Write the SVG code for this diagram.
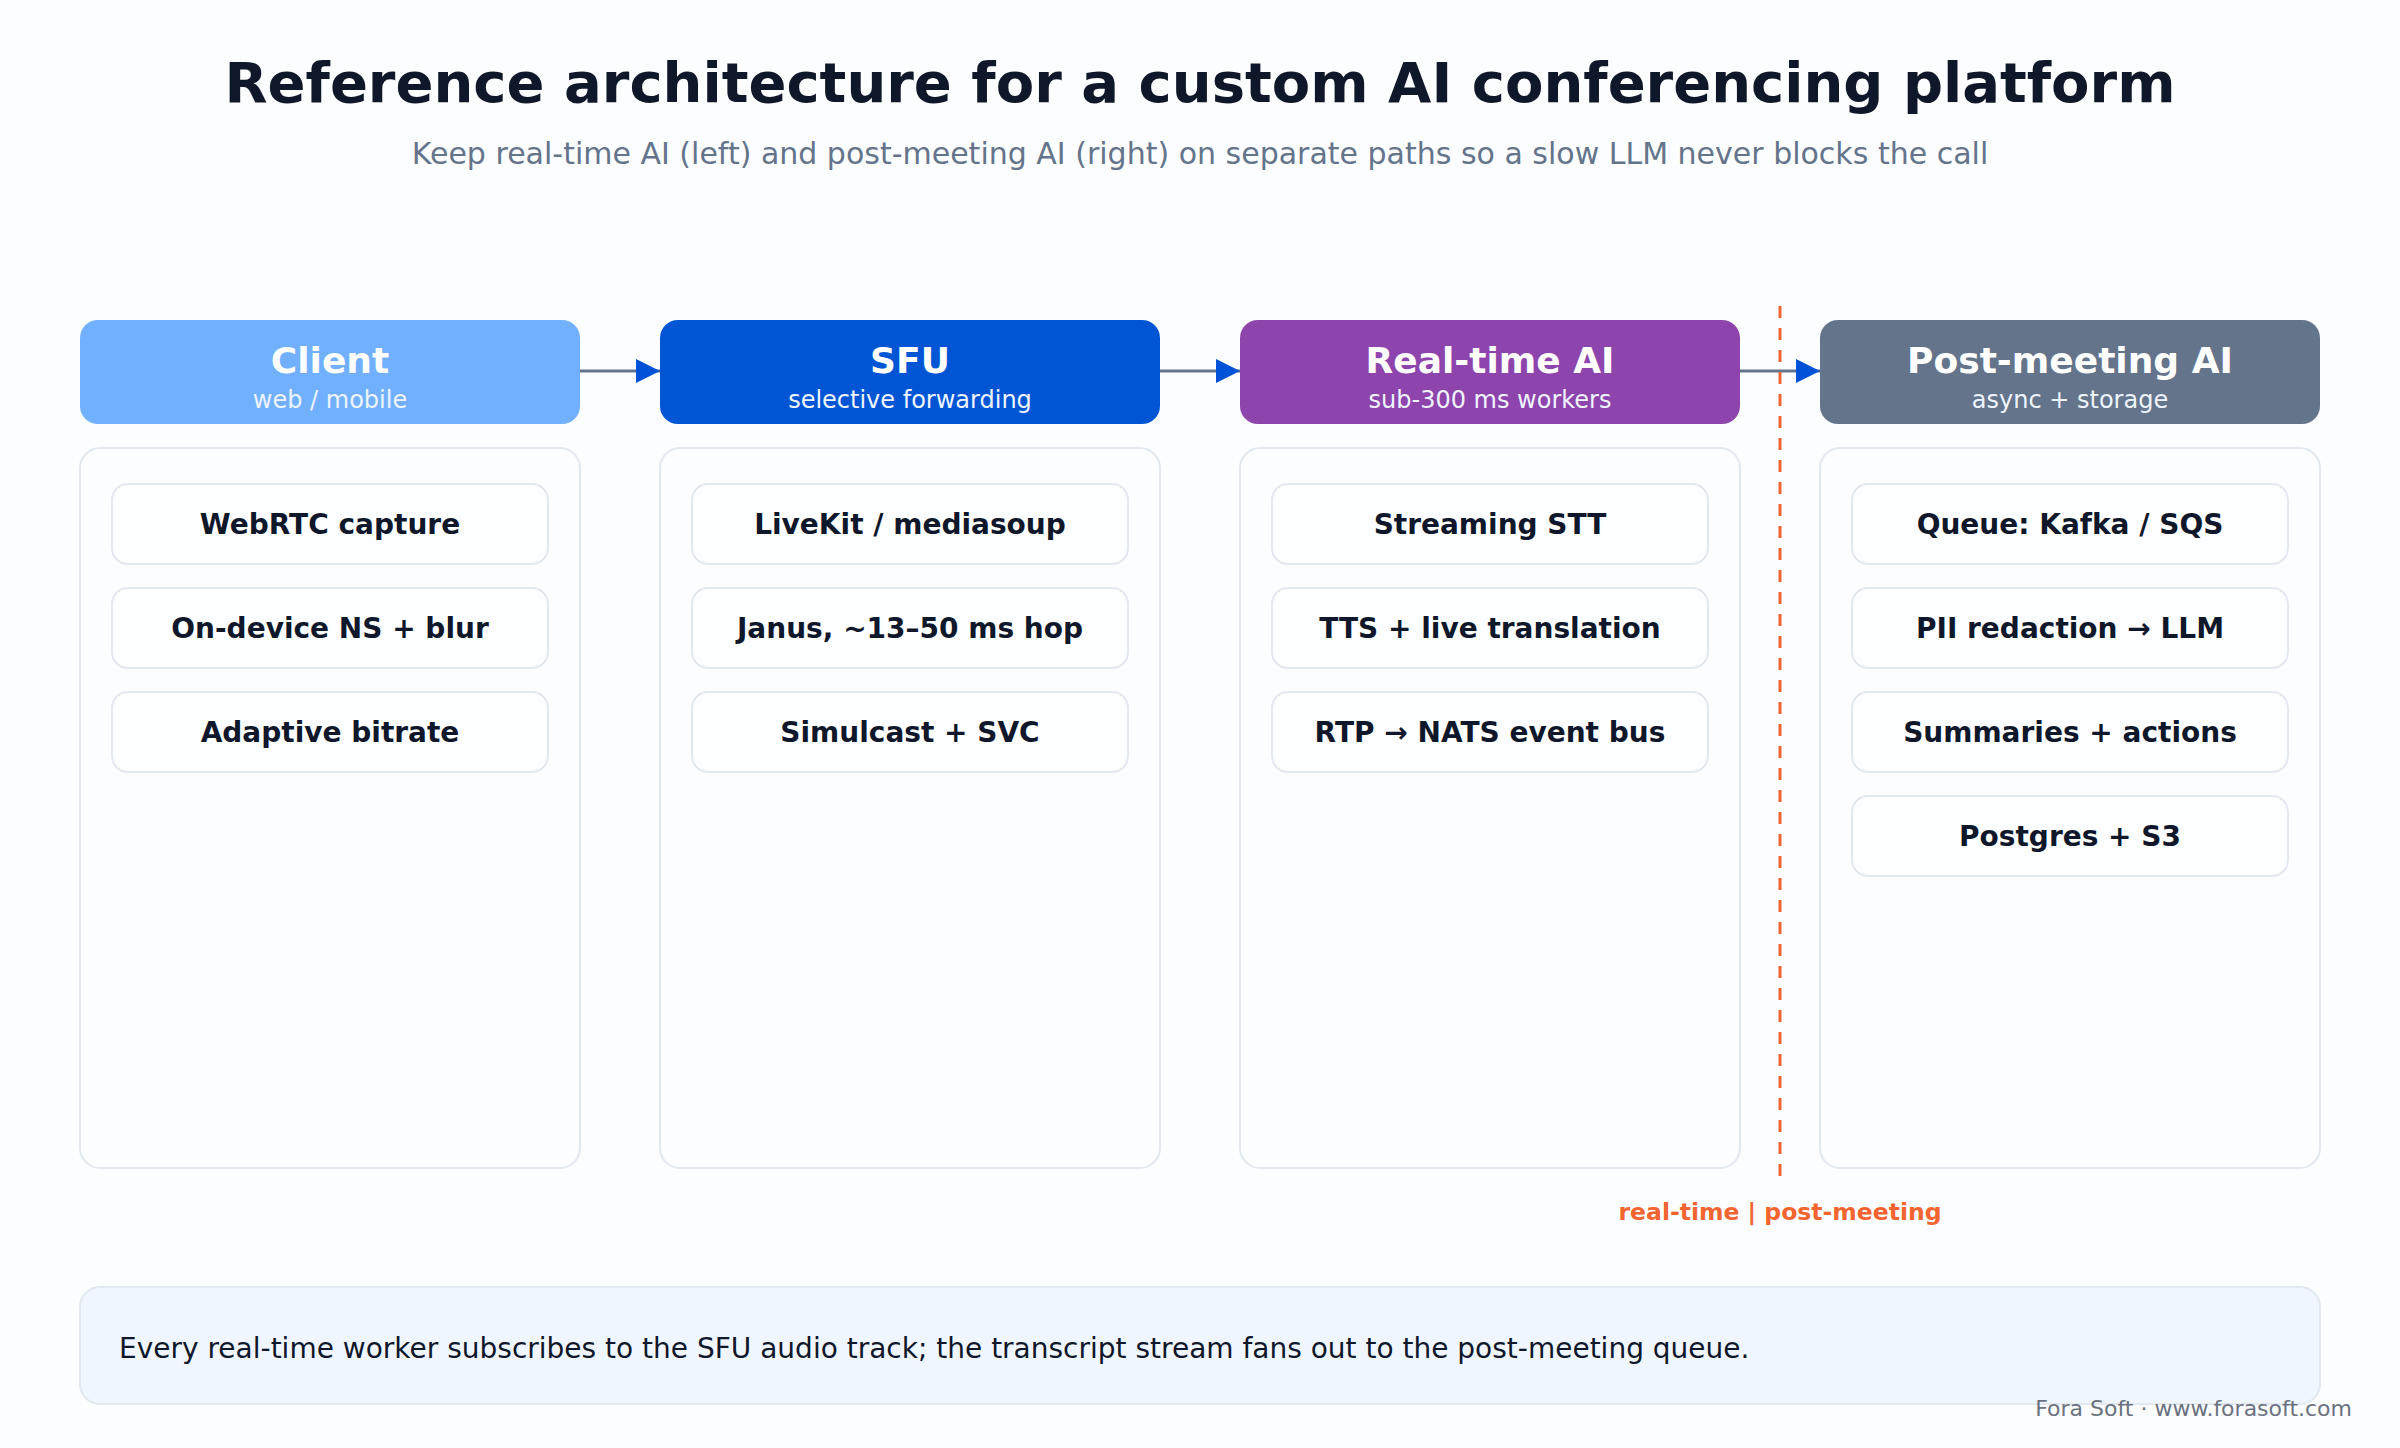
<svg xmlns="http://www.w3.org/2000/svg" width="2400" height="1448" viewBox="0 0 2400 1448">
<defs>
<marker id="ah" viewBox="0 0 10 10" refX="10" refY="5" markerWidth="28" markerHeight="24" markerUnits="userSpaceOnUse" orient="auto"><path d="M0,0 L10,5 L0,10 z" fill="#0052d9"/></marker>
<style>
.t{font-family:"DejaVu Sans",Verdana,sans-serif;}
.title{font-size:56px;font-weight:bold;fill:#0f172a;text-anchor:middle;}
.sub{font-size:30px;fill:#64748b;text-anchor:middle;}
.hd{font-size:36px;font-weight:bold;fill:#ffffff;text-anchor:middle;}
.hs{font-size:24px;fill:#eef4ff;text-anchor:middle;}
.body{fill:#fcfdfe;stroke:#e2e8f0;stroke-width:2;}
.item{fill:#fdfeff;stroke:#e2e8f0;stroke-width:2;}
.it{font-size:28px;font-weight:bold;fill:#0f172a;text-anchor:middle;}
.conn{stroke:#64748b;stroke-width:3;fill:none;}
</style>
</defs>
<rect width="2400" height="1448" fill="#fcfdfe"/>
<text class="t title" x="1200" y="102">Reference architecture for a custom AI conferencing platform</text>
<text class="t sub" x="1200" y="164">Keep real-time AI (left) and post-meeting AI (right) on separate paths so a slow LLM never blocks the call</text>

<g id="client">
<rect x="80" y="320" width="500" height="104" rx="18" fill="#70b0fe"/>
<text class="t hd" x="330" y="373">Client</text>
<text class="t hs" x="330" y="408">web / mobile</text>
<rect class="body" x="80" y="448" width="500" height="720" rx="20"/>
<rect class="item" x="112" y="484" width="436" height="80" rx="16"/>
<text class="t it" x="330" y="534">WebRTC capture</text>
<rect class="item" x="112" y="588" width="436" height="80" rx="16"/>
<text class="t it" x="330" y="638">On-device NS + blur</text>
<rect class="item" x="112" y="692" width="436" height="80" rx="16"/>
<text class="t it" x="330" y="742">Adaptive bitrate</text>
</g>

<g id="sfu">
<rect x="660" y="320" width="500" height="104" rx="18" fill="#0055d4"/>
<text class="t hd" x="910" y="373">SFU</text>
<text class="t hs" x="910" y="408">selective forwarding</text>
<rect class="body" x="660" y="448" width="500" height="720" rx="20"/>
<rect class="item" x="692" y="484" width="436" height="80" rx="16"/>
<text class="t it" x="910" y="534">LiveKit / mediasoup</text>
<rect class="item" x="692" y="588" width="436" height="80" rx="16"/>
<text class="t it" x="910" y="638">Janus, ~13–50 ms hop</text>
<rect class="item" x="692" y="692" width="436" height="80" rx="16"/>
<text class="t it" x="910" y="742">Simulcast + SVC</text>
</g>

<g id="realtime">
<rect x="1240" y="320" width="500" height="104" rx="18" fill="#8e44ad"/>
<text class="t hd" x="1490" y="373">Real-time AI</text>
<text class="t hs" x="1490" y="408">sub-300 ms workers</text>
<rect class="body" x="1240" y="448" width="500" height="720" rx="20"/>
<rect class="item" x="1272" y="484" width="436" height="80" rx="16"/>
<text class="t it" x="1490" y="534">Streaming STT</text>
<rect class="item" x="1272" y="588" width="436" height="80" rx="16"/>
<text class="t it" x="1490" y="638">TTS + live translation</text>
<rect class="item" x="1272" y="692" width="436" height="80" rx="16"/>
<text class="t it" x="1490" y="742">RTP → NATS event bus</text>
</g>

<g id="postmeeting">
<rect x="1820" y="320" width="500" height="104" rx="18" fill="#64748b"/>
<text class="t hd" x="2070" y="373">Post-meeting AI</text>
<text class="t hs" x="2070" y="408">async + storage</text>
<rect class="body" x="1820" y="448" width="500" height="720" rx="20"/>
<rect class="item" x="1852" y="484" width="436" height="80" rx="16"/>
<text class="t it" x="2070" y="534">Queue: Kafka / SQS</text>
<rect class="item" x="1852" y="588" width="436" height="80" rx="16"/>
<text class="t it" x="2070" y="638">PII redaction → LLM</text>
<rect class="item" x="1852" y="692" width="436" height="80" rx="16"/>
<text class="t it" x="2070" y="742">Summaries + actions</text>
<rect class="item" x="1852" y="796" width="436" height="80" rx="16"/>
<text class="t it" x="2070" y="846">Postgres + S3</text>
</g>

<g id="connectors">
<line class="conn" x1="580" y1="371" x2="660" y2="371" marker-end="url(#ah)"/>
<line class="conn" x1="1160" y1="371" x2="1240" y2="371" marker-end="url(#ah)"/>
<line class="conn" x1="1740" y1="371" x2="1820" y2="371" marker-end="url(#ah)"/>
</g>

<g id="divider">
<line x1="1780" y1="306" x2="1780" y2="1178" stroke="#f26430" stroke-width="3" stroke-dasharray="12 10"/>
<text class="t" x="1780" y="1220" font-size="23.5" font-weight="bold" fill="#f26430" text-anchor="middle">real-time | post-meeting</text>
</g>

<g id="note">
<rect x="80" y="1287" width="2240" height="117" rx="20" fill="#eff6ff" stroke="#e2e8f0" stroke-width="2"/>
<text class="t" x="119" y="1358" font-size="28" fill="#0f172a">Every real-time worker subscribes to the SFU audio track; the transcript stream fans out to the post-meeting queue.</text>
</g>
<text class="t" x="2352" y="1416" font-size="22" fill="#6b7280" text-anchor="end">Fora Soft · www.forasoft.com</text>
</svg>
